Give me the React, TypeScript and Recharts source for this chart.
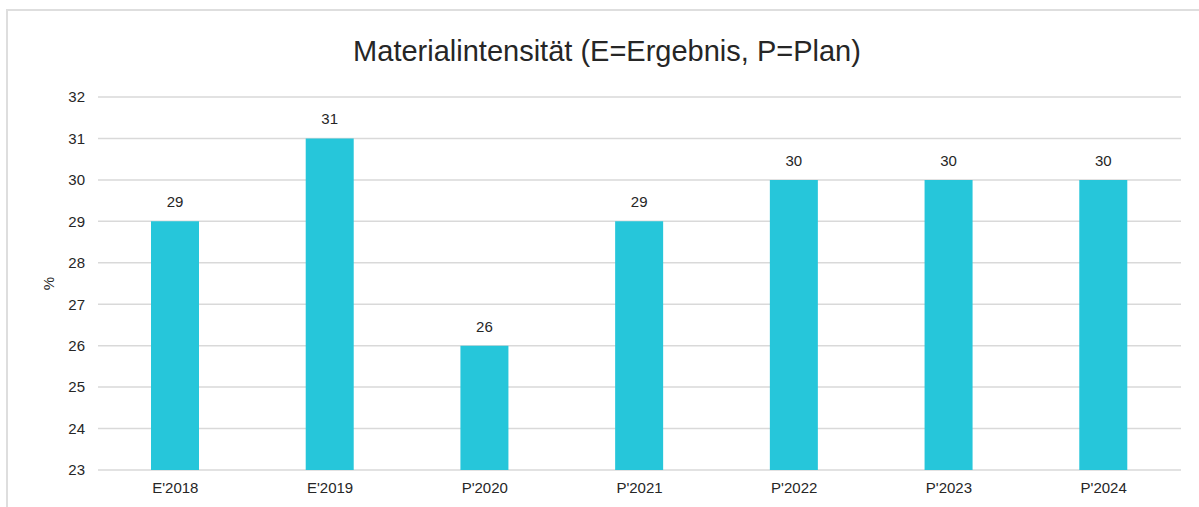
import React from 'react';
import { BarChart, Bar, XAxis, YAxis, CartesianGrid, LabelList } from 'recharts';

const categories = ["E'2018", "E'2019", "P'2020", "P'2021", "P'2022", "P'2023", "P'2024"];
const values = [29, 31, 26, 29, 30, 30, 30];
const yTicks = [23, 24, 25, 26, 27, 28, 29, 30, 31, 32];
const title = 'Materialintensität (E=Ergebnis, P=Plan)';
const yLabel = '%';

const data = categories.map((c, i) => ({ name: c, value: values[i] }));

const FONT = '"Liberation Sans", Arial, sans-serif';
const TEXT = '#262626';

export default function App() {
  return (
    <div style={{ position: 'absolute', left: 0, top: 0, width: 1199, height: 507, overflow: 'hidden', background: '#fff', fontFamily: FONT }}>
      <div style={{ position: 'absolute', left: 6, top: 9, width: 1300, height: 700, border: '2px solid #dedede', boxSizing: 'border-box' }} />
      <div style={{ position: 'absolute', left: 0, top: 0, width: 1214, textAlign: 'center', fontSize: 29, lineHeight: '29px', top: 37, color: TEXT, whiteSpace: 'nowrap' }}>
        {title}
      </div>
      <div style={{ position: 'absolute', left: 0, top: 0 }}>
        <BarChart width={1199} height={507} data={data} margin={{ top: 97, right: 18, left: 0, bottom: 7 }}>
          <CartesianGrid vertical={false} stroke="#d9d9d9" strokeWidth={1.5} />
          <XAxis
            dataKey="name"
            axisLine={false}
            tickLine={false}
            tickSize={0}
            tickMargin={12}
            height={30}
            interval={0}
            tick={{ fontSize: 15, fill: TEXT, fontFamily: FONT }}
          />
          <YAxis
            domain={[23, 32]}
            ticks={yTicks}
            interval={0}
            allowDataOverflow
            axisLine={false}
            tickLine={false}
            tickSize={0}
            tickMargin={13}
            width={98}
            tick={{ fontSize: 15, fill: TEXT, fontFamily: FONT }}
            label={{ value: yLabel, angle: -90, position: 'center', fontSize: 15, fill: TEXT, fontFamily: FONT }}
          />
          <Bar dataKey="value" fill="#26C6DA" barSize={48} isAnimationActive={false}>
            <LabelList dataKey="value" position="top" offset={14} fontSize={15} fill={TEXT} fontFamily={FONT} />
          </Bar>
        </BarChart>
      </div>
    </div>
  );
}
